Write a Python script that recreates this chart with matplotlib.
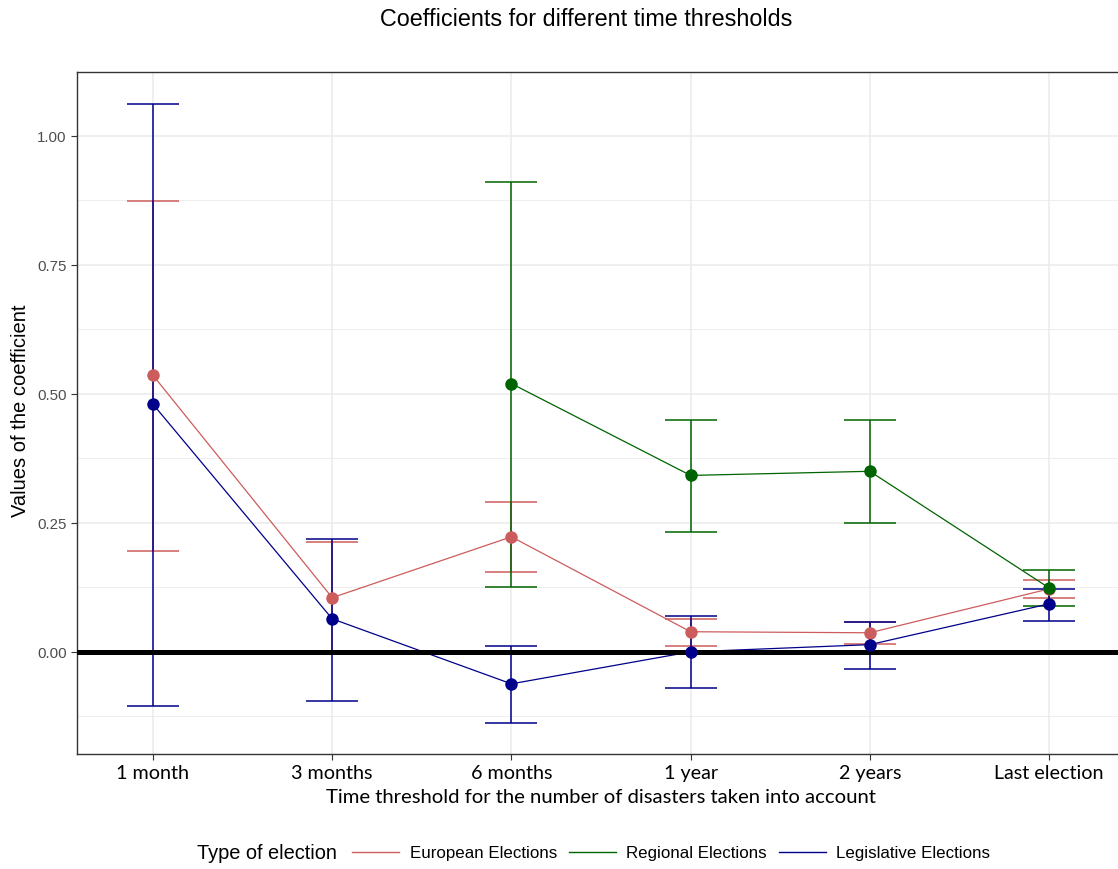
import numpy as np
import matplotlib.pyplot as plt
from matplotlib.lines import Line2D
from matplotlib.ticker import MultipleLocator

# Data
thresholds = ["1 month", "3 months", "6 months", "1 year", "2 years", "Last election"]

european = [0.536, 0.105, 0.223, 0.039, 0.037, 0.122]
european_low = [0.196, -0.002, 0.155, 0.012, 0.016, 0.105]
european_high = [0.874, 0.212, 0.290, 0.064, 0.058, 0.140]

regional = [np.nan, np.nan, 0.520, 0.342, 0.350, 0.124]
regional_low = [np.nan, np.nan, 0.126, 0.233, 0.250, 0.088]
regional_high = [np.nan, np.nan, 0.911, 0.450, 0.449, 0.159]

legislative = [0.480, 0.064, -0.062, 0.000, 0.014, 0.093]
legislative_low = [-0.105, -0.095, -0.138, -0.070, -0.033, 0.060]
legislative_high = [1.062, 0.219, 0.012, 0.070, 0.058, 0.122]

series = [
    ("European Elections", european, european_low, european_high, "#CD5C5C"),
    ("Regional Elections", regional, regional_low, regional_high, "#006400"),
    ("Legislative Elections", legislative, legislative_low, legislative_high, "#00008B"),
]

fig = plt.figure(figsize=(11.18, 8.70), dpi=100)
ax = fig.add_axes([77 / 1118, (870 - 755) / 870, (1125 - 77) / 1118, (755 - 73) / 870])

x = np.arange(len(thresholds))

for name, y, lo, hi, col in series:
    y = np.array(y)
    err = [y - np.array(lo), np.array(hi) - y]
    ax.errorbar(x, y, yerr=err, fmt="none", ecolor=col, elinewidth=1.1,
                capsize=19, capthick=1.1, zorder=3)
    ax.plot(x, y, color=col, lw=0.9, zorder=3)

ax.axhline(0, color="black", lw=3.6, zorder=4)

for name, y, lo, hi, col in series:
    ax.plot(x, y, "o", color=col, ms=9, zorder=5, markeredgewidth=0)

ax.set_xlim(-0.424, 5.424)
ax.set_ylim(-0.198, 1.124)
ax.set_xticks(x)
ax.set_xticklabels(thresholds, fontsize=14.2, family="Lato", color="black")
ax.yaxis.set_major_locator(MultipleLocator(0.25))
ax.yaxis.set_minor_locator(MultipleLocator(0.125))
ax.set_yticks([0, 0.25, 0.5, 0.75, 1.0])
ax.set_yticklabels(["0.00", "0.25", "0.50", "0.75", "1.00"], fontsize=10.8,
                   family="Liberation Sans", color="#4D4D4D")
ax.tick_params(axis="both", which="major", length=4, color="#333333", width=0.8)
ax.tick_params(axis="y", which="minor", length=0)
ax.tick_params(axis="x", pad=3)

ax.grid(True, which="major", color="#EBEBEB", lw=1.1, zorder=0)
ax.grid(True, which="minor", axis="y", color="#EBEBEB", lw=0.6, zorder=0)
ax.set_axisbelow(True)
for sp in ax.spines.values():
    sp.set_color("#333333")
    sp.set_linewidth(1.0)

ax.set_xlabel("Time threshold for the number of disasters taken into account",
              fontsize=14.6, family="Lato")
ax.xaxis.set_label_coords((601 - 77) / (1125 - 77), -(789 - 755) / (755 - 73))
ax.set_ylabel("Values of the coefficient", fontsize=14.5, family="Liberation Sans",
              va="center")
ax.yaxis.set_label_coords(-(77 - 21) / (1125 - 77), (755 - 411) / (755 - 73))

fig.text(586 / 1118, 1 - 20 / 870, "Coefficients for different time thresholds",
         ha="center", va="center", fontsize=16.8, family="Liberation Sans")

# legend
fig.text(197 / 1118, 1 - 854 / 870, "Type of election", ha="left", va="center",
         fontsize=14.4, family="Liberation Sans")
handles = [Line2D([0], [0], color=col, lw=1.0) for _, _, _, _, col in series]
labels = [s[0] for s in series]
leg = fig.legend(handles, labels, loc="center left",
                 bbox_to_anchor=(352 / 1118, 1 - 854 / 870), ncol=3, frameon=False,
                 handlelength=2.8, handletextpad=0.6, columnspacing=0.7,
                 borderaxespad=0, borderpad=0,
                 prop={"family": "Liberation Sans", "size": 12.2})

fig.savefig("out.png", dpi=100)
